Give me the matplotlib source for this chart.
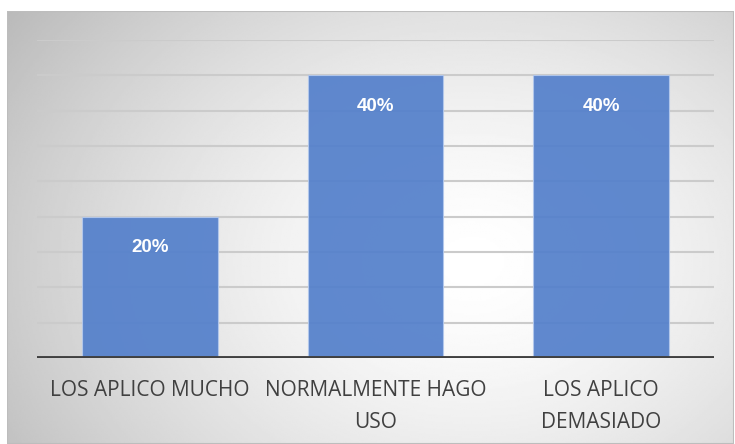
import numpy as np
import matplotlib
matplotlib.use("Agg")
import matplotlib.pyplot as plt
from matplotlib.patches import Rectangle

# data
categories = ["LOS APLICO MUCHO", "NORMALMENTE HAGO\nUSO", "LOS APLICO\nDEMASIADO"]
values = [20, 40, 40]
labels = ["20%", "40%", "40%"]

W, H = 735, 444
fig = plt.figure(figsize=(W / 100, H / 100), dpi=100)
fig.patch.set_facecolor("white")

# chart area with radial gradient background
bx0, by0, bx1, by1 = 7, 11, 734, 444
bg = fig.add_axes([bx0 / W, 1 - by1 / H, (bx1 - bx0) / W, (by1 - by0) / H])
gx, gy = np.meshgrid(np.linspace(0, 1, 400), np.linspace(0, 1, 250))
cx, cy = 0.64, 0.58
r = np.sqrt(((gx - cx) / 0.7) ** 2 + ((gy - cy) / 0.9) ** 2)
shade = 1.0 - 0.23 * np.clip(r, 0, 1.2) ** 1.5
bg.imshow(shade, cmap="gray", vmin=0, vmax=1, aspect="auto", extent=[0, 1, 1, 0])
bg.set_xlim(0, 1)
bg.set_ylim(1, 0)
bg.axis("off")
bg.add_patch(Rectangle((0, 0), 1, 1, fill=False, edgecolor="#bdbdbd", lw=1.5,
                       transform=bg.transAxes))

# plot area
px0, py0, px1, py1 = 37, 40, 714, 358
ax = fig.add_axes([px0 / W, 1 - py1 / H, (px1 - px0) / W, (py1 - py0) / H])
ax.patch.set_alpha(0)
ax.set_ylim(0, 45)
ax.set_xlim(-0.5, 2.5)

for yv in np.arange(5, 46, 5):
    ax.axhline(yv, color="#cbcbcb", lw=1.5, zorder=1)

x = np.arange(len(categories))
ax.bar(x, values, width=0.6, color="#5480cb", alpha=0.93, edgecolor="#b3c8ec",
       linewidth=0.8, zorder=2)
ax.axhline(0, color="#404040", lw=2.8, zorder=3)

for xi, v, lab in zip(x, values, labels):
    ax.text(xi, v - 4.4, lab, ha="center", va="center", color="white",
            fontsize=13.5, fontweight="bold", family="Liberation Sans", zorder=4)

ax.set_xticks(x)
ax.set_xticklabels(categories, fontsize=15, color="#404040", family="Open Sans",
                   linespacing=1.65)
ax.tick_params(axis="x", length=0, pad=16)
ax.set_yticks([])
for s in ax.spines.values():
    s.set_visible(False)

fig.savefig("out.png", dpi=100)
